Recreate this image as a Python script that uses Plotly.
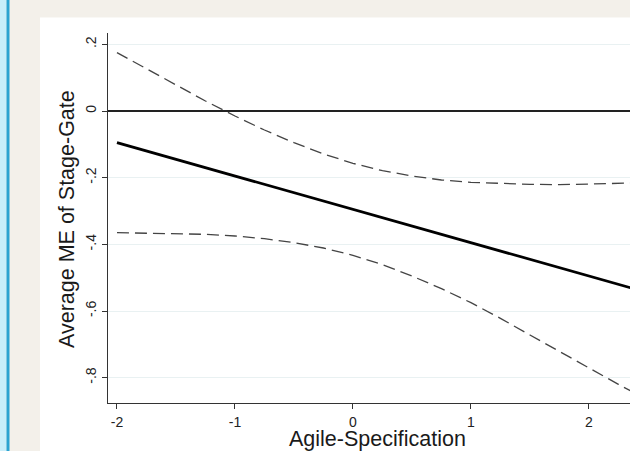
import plotly.graph_objects as go

# Data (marginal effect with 95% CI)
agile_spec = [-2.0, -1.75, -1.5, -1.25, -1.0, -0.75, -0.5, -0.25, 0.0,
              0.25, 0.5, 0.75, 1.0, 1.25, 1.5, 1.75, 2.0, 2.25, 2.5]
avg_me = [-0.095, -0.120, -0.145, -0.170, -0.195, -0.220, -0.245, -0.270, -0.295,
          -0.320, -0.345, -0.370, -0.395, -0.420, -0.445, -0.470, -0.495, -0.520, -0.545]
ci_upper = [0.175, 0.126, 0.077, 0.030, -0.015, -0.057, -0.095, -0.129, -0.157,
            -0.179, -0.195, -0.207, -0.214, -0.218, -0.220, -0.221, -0.220, -0.218, -0.215]
ci_lower = [-0.365, -0.366, -0.367, -0.370, -0.375, -0.383, -0.395, -0.411, -0.433,
            -0.461, -0.495, -0.533, -0.575, -0.622, -0.672, -0.722, -0.772, -0.820, -0.868]

x_ticks = [-2, -1, 0, 1, 2]
x_ticktext = ["-2", "-1", "0", "1", "2"]
y_ticks = [0.2, 0, -0.2, -0.4, -0.6, -0.8]
y_ticktext = [".2", "0", "-.2", "-.4", "-.6", "-.8"]

FONT = "Arial, Liberation Sans, sans-serif"

fig = go.Figure()
fig.add_trace(go.Scatter(x=agile_spec, y=ci_upper, mode="lines",
                         line=dict(color="#444444", width=1.3, dash="12px,6px"),
                         showlegend=False, hoverinfo="skip"))
fig.add_trace(go.Scatter(x=agile_spec, y=ci_lower, mode="lines",
                         line=dict(color="#444444", width=1.3, dash="12px,6px"),
                         showlegend=False, hoverinfo="skip"))
fig.add_trace(go.Scatter(x=agile_spec, y=avg_me, mode="lines",
                         line=dict(color="#000000", width=2.8),
                         showlegend=False))

L, R, T, B = 108, 0, 33, 48
W, H = 630, 451
pw, ph = W - L - R, H - T - B

def px2x(px):
    return (px - L) / pw

def px2y(py):
    return (H - B - py) / ph

shapes = [
    # light blue strip at far left
    dict(type="rect", xref="paper", yref="paper", x0=px2x(0), x1=px2x(6.5),
         y0=px2y(H + 10), y1=px2y(-10), fillcolor="#c8eefa", line=dict(width=0), layer="below"),
    # blue border line
    dict(type="rect", xref="paper", yref="paper", x0=px2x(6.5), x1=px2x(9.5),
         y0=px2y(H + 10), y1=px2y(-10), fillcolor="#2ba3d1", line=dict(width=0), layer="below"),
    # white panel
    dict(type="rect", xref="paper", yref="paper", x0=px2x(40), x1=px2x(W + 20),
         y0=px2y(H + 20), y1=px2y(17.5), fillcolor="#ffffff", line=dict(width=0), layer="below"),
]

annotations = [
    dict(text="Average ME of Stage-Gate", xref="paper", yref="paper",
         x=px2x(67), y=px2y(219), textangle=-90, showarrow=False,
         xanchor="center", yanchor="middle",
         font=dict(family=FONT, size=21.5, color="#1a1a1a")),
    dict(text="Agile-Specification", xref="paper", yref="paper",
         x=px2x(377), y=px2y(439), showarrow=False,
         xanchor="center", yanchor="middle",
         font=dict(family=FONT, size=21.5, color="#1a1a1a")),
]

fig.update_layout(
    width=W, height=H,
    margin=dict(l=L, r=R, t=T, b=B, pad=0),
    paper_bgcolor="#f3f0ea",
    plot_bgcolor="rgba(0,0,0,0)",
    shapes=shapes,
    annotations=annotations,
    xaxis=dict(range=[-2.076, 2.348], tickvals=x_ticks, ticktext=x_ticktext,
               showgrid=False, zeroline=False, showline=True, linecolor="#333333",
               linewidth=1.3, ticks="outside", ticklen=5, tickcolor="#333333",
               tickwidth=1.2, ticklabelstandoff=1,
               tickfont=dict(family=FONT, size=14, color="#222222")),
    yaxis=dict(range=[-0.876, 0.234], tickvals=y_ticks, ticktext=y_ticktext,
               tickangle=-90, showgrid=True, gridcolor="#e9f1f2", gridwidth=1,
               zeroline=True, zerolinecolor="#222222", zerolinewidth=1.5,
               showline=True, linecolor="#333333", linewidth=1.3,
               ticks="outside", ticklen=5, tickcolor="#333333", tickwidth=1.2,
               tickfont=dict(family=FONT, size=14, color="#222222")),
)

fig.write_html(
    "out.html",
    config={"displayModeBar": False},
    post_script="document.body.style.margin='0';document.body.style.overflow='hidden';",
)
